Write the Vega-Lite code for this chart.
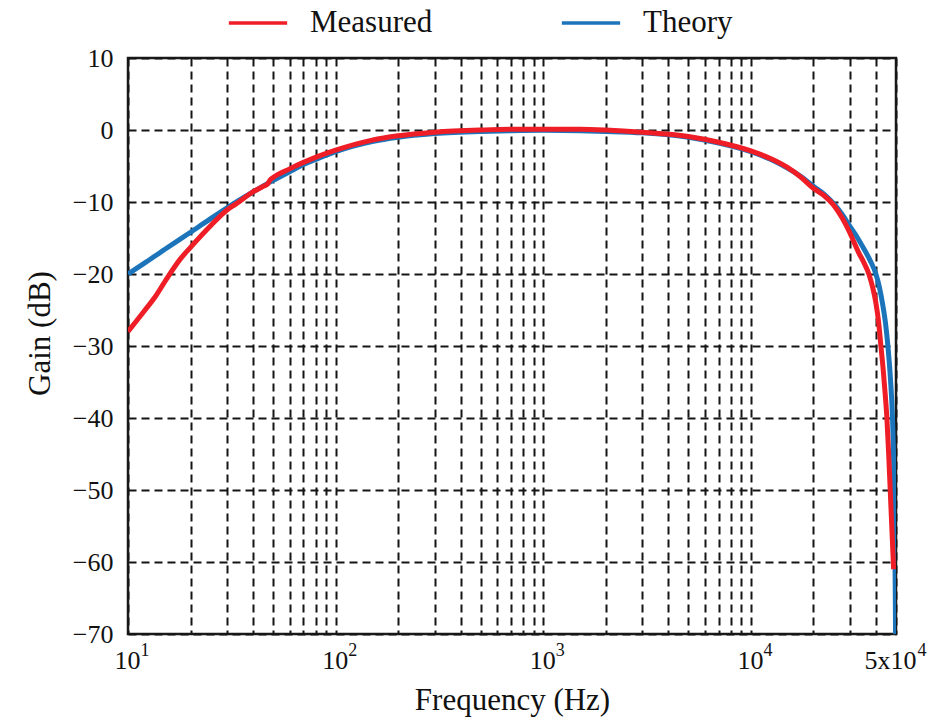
{
  "$schema": "https://vega.github.io/schema/vega-lite/v6.json",
  "width": 768,
  "height": 576,
  "autosize": {"type": "none"},
  "padding": {"left": 128, "top": 58, "right": 45, "bottom": 94},
  "background": "white",
  "data": {"values": [
    {"s": "Theory", "f": 10, "g": -20.0},
    {"s": "Theory", "f": 12, "g": -18.5},
    {"s": "Theory", "f": 15, "g": -16.6},
    {"s": "Theory", "f": 20, "g": -14.2},
    {"s": "Theory", "f": 25, "g": -12.3},
    {"s": "Theory", "f": 30, "g": -10.8},
    {"s": "Theory", "f": 40, "g": -8.6},
    {"s": "Theory", "f": 50, "g": -7.0},
    {"s": "Theory", "f": 60, "g": -5.8},
    {"s": "Theory", "f": 70, "g": -4.8},
    {"s": "Theory", "f": 80, "g": -4.1},
    {"s": "Theory", "f": 100, "g": -3.0},
    {"s": "Theory", "f": 150, "g": -1.6},
    {"s": "Theory", "f": 200, "g": -1.0},
    {"s": "Theory", "f": 300, "g": -0.5},
    {"s": "Theory", "f": 500, "g": -0.2},
    {"s": "Theory", "f": 700, "g": -0.1},
    {"s": "Theory", "f": 1000, "g": -0.05},
    {"s": "Theory", "f": 1500, "g": -0.1},
    {"s": "Theory", "f": 2000, "g": -0.2},
    {"s": "Theory", "f": 3000, "g": -0.4},
    {"s": "Theory", "f": 5000, "g": -1.0},
    {"s": "Theory", "f": 7000, "g": -1.8},
    {"s": "Theory", "f": 10000, "g": -3.0},
    {"s": "Theory", "f": 12500, "g": -4.1},
    {"s": "Theory", "f": 15000, "g": -5.3},
    {"s": "Theory", "f": 17500, "g": -6.5},
    {"s": "Theory", "f": 20000, "g": -7.8},
    {"s": "Theory", "f": 22500, "g": -8.9},
    {"s": "Theory", "f": 25000, "g": -10.2},
    {"s": "Theory", "f": 27500, "g": -11.7},
    {"s": "Theory", "f": 30000, "g": -13.4},
    {"s": "Theory", "f": 32500, "g": -14.9},
    {"s": "Theory", "f": 35000, "g": -16.5},
    {"s": "Theory", "f": 37500, "g": -18.1},
    {"s": "Theory", "f": 40000, "g": -20.0},
    {"s": "Theory", "f": 41500, "g": -21.7},
    {"s": "Theory", "f": 43000, "g": -24.0},
    {"s": "Theory", "f": 44500, "g": -26.8},
    {"s": "Theory", "f": 45700, "g": -30.0},
    {"s": "Theory", "f": 47000, "g": -34.5},
    {"s": "Theory", "f": 48100, "g": -40.0},
    {"s": "Theory", "f": 48600, "g": -44.5},
    {"s": "Theory", "f": 49000, "g": -50.0},
    {"s": "Theory", "f": 49250, "g": -55.0},
    {"s": "Theory", "f": 49450, "g": -60.0},
    {"s": "Theory", "f": 49650, "g": -66.0},
    {"s": "Theory", "f": 49750, "g": -70.0},
    {"s": "Measured", "f": 10, "g": -28.0},
    {"s": "Measured", "f": 11, "g": -26.5},
    {"s": "Measured", "f": 12, "g": -25.1},
    {"s": "Measured", "f": 13.5, "g": -23.2},
    {"s": "Measured", "f": 15.4, "g": -20.6},
    {"s": "Measured", "f": 18, "g": -17.8},
    {"s": "Measured", "f": 20, "g": -16.3},
    {"s": "Measured", "f": 25, "g": -13.3},
    {"s": "Measured", "f": 30, "g": -11.1},
    {"s": "Measured", "f": 33, "g": -10.3},
    {"s": "Measured", "f": 40, "g": -8.6},
    {"s": "Measured", "f": 45, "g": -7.8},
    {"s": "Measured", "f": 47, "g": -7.5},
    {"s": "Measured", "f": 48.5, "g": -6.9},
    {"s": "Measured", "f": 50, "g": -6.6},
    {"s": "Measured", "f": 60, "g": -5.4},
    {"s": "Measured", "f": 70, "g": -4.5},
    {"s": "Measured", "f": 80, "g": -3.8},
    {"s": "Measured", "f": 100, "g": -2.8},
    {"s": "Measured", "f": 150, "g": -1.4},
    {"s": "Measured", "f": 200, "g": -0.8},
    {"s": "Measured", "f": 300, "g": -0.3},
    {"s": "Measured", "f": 500, "g": 0.0},
    {"s": "Measured", "f": 700, "g": 0.1},
    {"s": "Measured", "f": 1000, "g": 0.1},
    {"s": "Measured", "f": 1500, "g": 0.1},
    {"s": "Measured", "f": 2000, "g": 0.0},
    {"s": "Measured", "f": 3000, "g": -0.3},
    {"s": "Measured", "f": 5000, "g": -0.9},
    {"s": "Measured", "f": 7000, "g": -1.7},
    {"s": "Measured", "f": 10000, "g": -2.9},
    {"s": "Measured", "f": 12500, "g": -4.0},
    {"s": "Measured", "f": 15000, "g": -5.2},
    {"s": "Measured", "f": 17500, "g": -6.6},
    {"s": "Measured", "f": 20000, "g": -8.1},
    {"s": "Measured", "f": 22500, "g": -9.1},
    {"s": "Measured", "f": 25000, "g": -10.4},
    {"s": "Measured", "f": 27500, "g": -12.2},
    {"s": "Measured", "f": 30000, "g": -14.3},
    {"s": "Measured", "f": 33000, "g": -17.0},
    {"s": "Measured", "f": 35000, "g": -18.4},
    {"s": "Measured", "f": 37000, "g": -20.0},
    {"s": "Measured", "f": 38700, "g": -22.0},
    {"s": "Measured", "f": 40000, "g": -24.0},
    {"s": "Measured", "f": 41200, "g": -26.6},
    {"s": "Measured", "f": 42300, "g": -30.0},
    {"s": "Measured", "f": 43300, "g": -33.0},
    {"s": "Measured", "f": 44300, "g": -36.5},
    {"s": "Measured", "f": 45200, "g": -40.0},
    {"s": "Measured", "f": 46100, "g": -45.0},
    {"s": "Measured", "f": 46900, "g": -50.0},
    {"s": "Measured", "f": 47700, "g": -55.0},
    {"s": "Measured", "f": 48700, "g": -61.0}
  ]},
  "encoding": {
    "y": {
      "field": "g", "type": "quantitative",
      "scale": {"domain": [-70, 10], "nice": false, "zero": false},
      "axis": {
        "title": "Gain (dB)",
        "values": [-70,-60,-50,-40,-30,-20,-10,0,10],
        "labelPadding": 15,
        "titlePadding": 16,
        "titleY": 275
      }
    },
    "color": {
      "field": "s", "type": "nominal",
      "scale": {"domain": ["Measured", "Theory"], "range": ["#ee1d26", "#1c74bb"]},
      "legend": {
        "title": null,
        "orient": "none",
        "direction": "horizontal",
        "legendX": 99,
        "legendY": -66,
        "symbolType": "stroke",
        "symbolSize": 3400,
        "symbolStrokeWidth": 3.5,
        "labelOffset": 21,
        "columnPadding": 121,
        "labelFont": "Liberation Serif",
        "labelFontSize": 31,
        "labelColor": "#111",
        "padding": 0
      }
    }
  },
  "layer": [
    {
      "transform": [{"filter": "datum.s === 'Theory'"}],
      "mark": {"type": "line", "strokeWidth": 5, "clip": true, "strokeCap": "butt", "interpolate": "monotone"},
      "encoding": {
        "x": {
          "field": "f", "type": "quantitative",
          "scale": {"type": "log", "domain": [10, 50000], "nice": false},
          "axis": {
            "orient": "bottom",
            "title": "Frequency (Hz)",
            "values": [10,20,30,40,50,60,70,80,90,100,200,300,400,500,600,700,800,900,1000,2000,3000,4000,5000,6000,7000,8000,9000,10000,20000,30000,40000,50000],
            "labelExpr": "datum.value == 10 || datum.value == 100 || datum.value == 1000 || datum.value == 10000 ? '10' : datum.value == 50000 ? '5x10' : ''",
            "labelOffset": {"condition": {"test": "datum.value == 50000", "value": -6}, "value": -1},
            "labelOverlap": false,
            "labelFlush": false,
            "labelPadding": 13,
            "titlePadding": 12
          }
        }
      }
    },
    {
      "transform": [{"filter": "datum.s === 'Measured'"}],
      "mark": {"type": "line", "strokeWidth": 5, "clip": true, "strokeCap": "butt", "interpolate": "monotone"},
      "encoding": {
        "x": {
          "field": "f", "type": "quantitative",
          "scale": {"type": "log", "domain": [10, 50000], "nice": false},
          "axis": {
            "orient": "bottom",
            "title": null,
            "grid": false,
            "values": [10, 100, 1000, 10000, 50000],
            "labelExpr": "datum.value == 10 ? '1' : datum.value == 100 ? '2' : datum.value == 1000 ? '3' : '4'",
            "labelAlign": "left",
            "labelFontSize": 18,
            "labelOffset": {"condition": {"test": "datum.value == 50000", "value": 21}, "value": 12},
            "labelOverlap": false,
            "labelFlush": false,
            "labelPadding": 7
          }
        }
      }
    }
  ],
  "resolve": {"axis": {"x": "independent"}},
  "config": {
    "view": {"stroke": "#1a1a1a", "strokeWidth": 2.5},
    "axis": {
      "labelFont": "Liberation Serif",
      "labelFontSize": 26,
      "labelColor": "#111",
      "titleFont": "Liberation Serif",
      "titleFontSize": 31,
      "titleFontWeight": "normal",
      "titleColor": "#111",
      "ticks": false,
      "domain": false,
      "grid": true,
      "gridColor": "#151515",
      "gridDash": [8, 5],
      "gridWidth": 2,
      "gridOpacity": 1
    }
  }
}
